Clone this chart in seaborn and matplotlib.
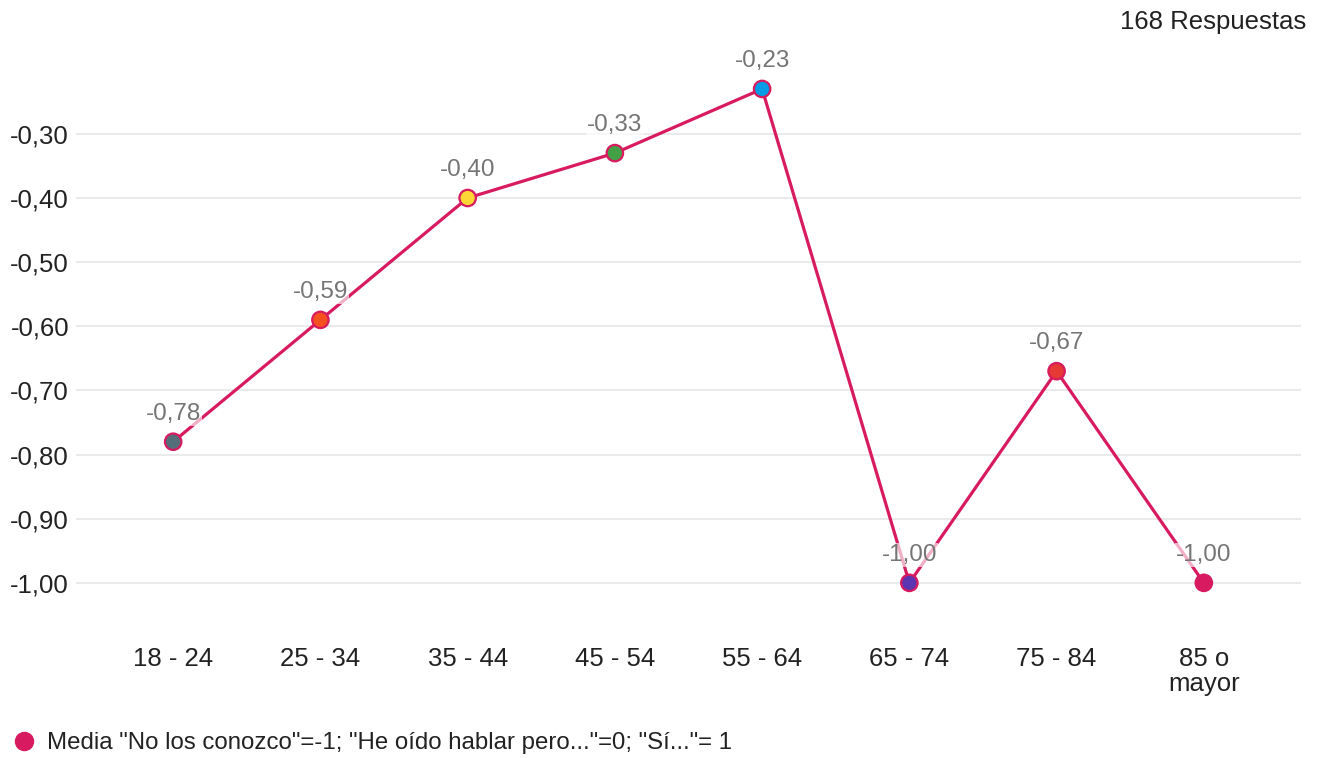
import numpy as np
import pandas as pd
import matplotlib.pyplot as plt
import seaborn as sns
from matplotlib.lines import Line2D

# Data
categorias = ["18 - 24", "25 - 34", "35 - 44", "45 - 54", "55 - 64", "65 - 74", "75 - 84", "85 o\nmayor"]
medias = [-0.78, -0.59, -0.40, -0.33, -0.23, -1.00, -0.67, -1.00]
etiquetas = ["-0,78", "-0,59", "-0,40", "-0,33", "-0,23", "-1,00", "-0,67", "-1,00"]
colores_punto = ["#546E7A", "#F4511E", "#FDD835", "#43A047", "#039BE5", "#5E35B1", "#E53935", "#D81B60"]
yticks = [-0.3, -0.4, -0.5, -0.6, -0.7, -0.8, -0.9, -1.0]
ytick_labels = ["-0,30", "-0,40", "-0,50", "-0,60", "-0,70", "-0,80", "-0,90", "-1,00"]
leyenda = 'Media "No los conozco"=-1; "He oído hablar pero..."=0; "Sí..."= 1'
total = "168 Respuestas"

LINEA = "#D81B60"

sns.set_style("white")
plt.rcParams['font.family'] = ['Liberation Sans', 'DejaVu Sans']

df = pd.DataFrame({"x": np.arange(len(categorias)), "media": medias, "cat": categorias})

fig = plt.figure(figsize=(13.24, 7.58), dpi=100)
ax = fig.add_axes([76 / 1324, 1 - 647 / 758, (1301 - 76) / 1324, (647 - 69.7) / 758])

sns.lineplot(data=df, x="x", y="media", ax=ax, color=LINEA, linewidth=2.3, zorder=3)
sns.scatterplot(data=df, x="x", y="media", hue="cat", palette=colores_punto, ax=ax,
                s=140, edgecolor=LINEA, linewidth=1.6, zorder=4, legend=False)

for xi, yi, lab in zip(df["x"], medias, etiquetas):
    ax.annotate(lab, (xi, yi), xytext=(0, 20), textcoords="offset points", ha="center", va="center",
                fontsize=17.5, color="#757575", zorder=5,
                bbox=dict(boxstyle="square,pad=0.05", fc="white", ec="none", alpha=0.65))

ax.set_xlim(-0.66, 7.66)
ax.set_ylim(-1.1, -0.2)
ax.set_yticks(yticks)
ax.set_yticklabels(ytick_labels)
ax.set_xticks(df["x"])
ax.set_xticklabels(categorias, linespacing=1.05)
ax.tick_params(axis="y", length=0, pad=5, labelsize=18.5, labelcolor="#222222")
ax.tick_params(axis="x", length=0, pad=0, labelsize=18.5, labelcolor="#222222")
ax.grid(axis="y", color="#E6E6E6", linewidth=1.2)
ax.set_axisbelow(True)
for s in ax.spines.values():
    s.set_visible(False)
ax.set_xlabel("")
ax.set_ylabel("")

fig.text(1306 / 1324, 1 - 22 / 758, total, ha="right", va="center", fontsize=18.5, color="#222222")

fig.legend(handles=[Line2D([], [], marker="o", linestyle="none", markersize=13,
                           markerfacecolor=LINEA, markeredgecolor=LINEA)],
           labels=[leyenda], loc="center left", bbox_to_anchor=(5 / 1324, 1 - 743 / 758),
           frameon=False, fontsize=17.3, handletextpad=0.55, handlelength=0.8, borderaxespad=0,
           labelcolor="#222222")

plt.savefig("out.png", dpi=100)
